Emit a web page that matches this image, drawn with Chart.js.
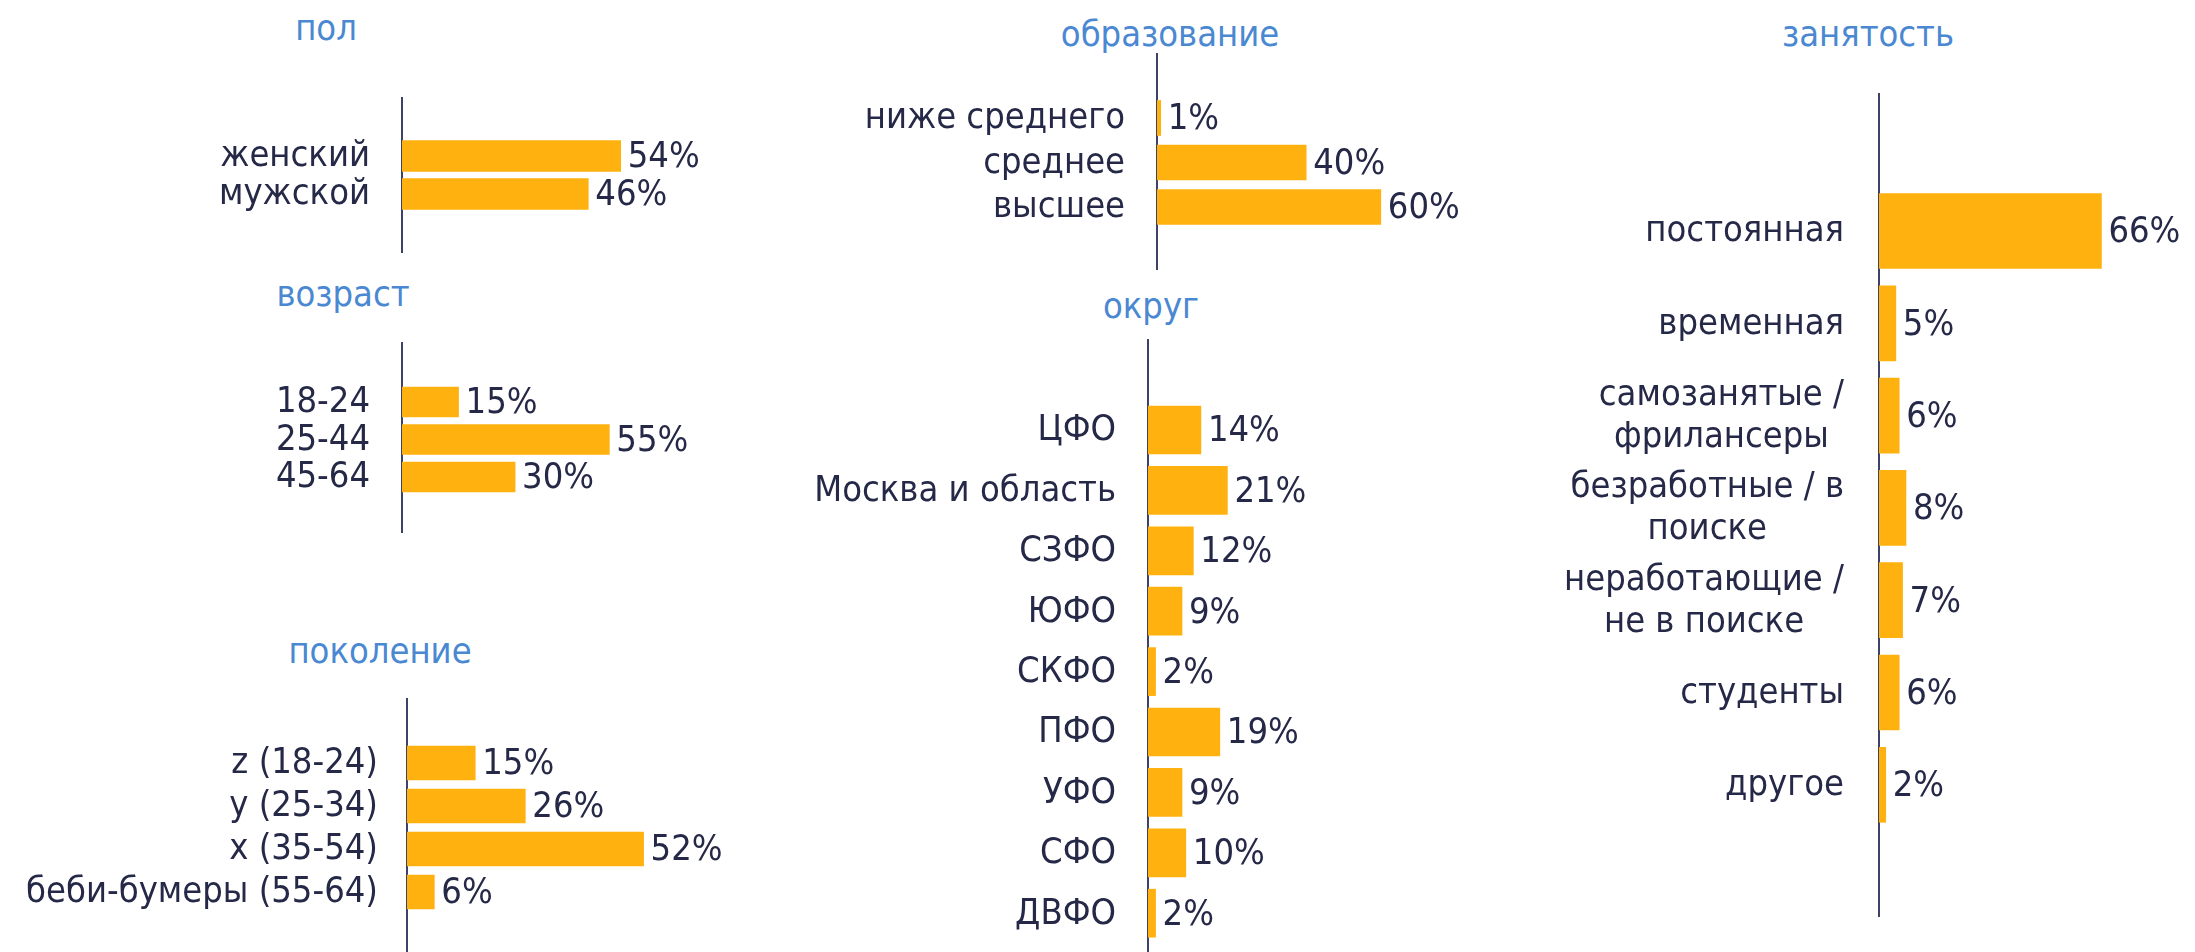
<!DOCTYPE html>
<html>
<head>
<meta charset="utf-8">
<script src="https://cdn.jsdelivr.net/npm/chart.js@4"></script>
<style>
  body { margin: 0; background: #fff; }
  #page { position: relative; width: 2195px; height: 952px; overflow: hidden; background: #fff; }
  #page canvas { position: absolute; }
  .ttl {
    position: absolute; transform: translate(-50%, -50%); white-space: nowrap;
    font-family: "DejaVu Sans Condensed", "DejaVu Sans", sans-serif; font-size: 36px; color: #4a88d2;
  }
</style>
</head>
<body>
<div id="page"></div>
<script>
// data
const genderCats = ['женский', 'мужской'];
const genderVals = [54, 46];

const ageCats = ['18-24', '25-44', '45-64'];
const ageVals = [15, 55, 30];

const generationCats = ['z (18-24)', 'y (25-34)', 'x (35-54)', 'беби-бумеры (55-64)'];
const generationVals = [15, 26, 52, 6];

const educationCats = ['ниже среднего', 'среднее', 'высшее'];
const educationVals = [1, 40, 60];

const districtCats = ['ЦФО', 'Москва и область', 'СЗФО', 'ЮФО', 'СКФО', 'ПФО', 'УФО', 'СФО', 'ДВФО'];
const districtVals = [14, 21, 12, 9, 2, 19, 9, 10, 2];

const employmentCats = [
    'постоянная',
    'временная',
    ['самозанятые /', 'фрилансеры'],
    ['безработные / в', 'поиске'],
    ['неработающие /', 'не в поиске'],
    'студенты',
    'другое'
];
const employmentVals = [66, 5, 6, 8, 7, 6, 2];

const FONT = '"DejaVu Sans Condensed", "DejaVu Sans", sans-serif';
const TEXT_COLOR = '#252947';
const BAR_COLOR = '#ffb20f';
const LABEL_W = 420;   // room for category labels left of the axis
const PLOT_W = 300;
const RIGHT_PAD = 110;

// layout of each small chart (full-size pixel coords)
const panels = [
    { title: 'пол', tx: 326, ty: 27, cats: genderCats, vals: genderVals,
      axisX: 402, top: 97, bottom: 253, first: 156, step: 38, thick: 31, ppp: 4.05, gap: 32 },
    { title: 'возраст', tx: 343, ty: 293, cats: ageCats, vals: ageVals,
      axisX: 402, top: 342, bottom: 533, first: 402, step: 37.5, thick: 30, ppp: 3.77, gap: 32 },
    { title: 'поколение', tx: 380, ty: 650, cats: generationCats, vals: generationVals,
      axisX: 407, top: 698, bottom: 952, first: 763, step: 43, thick: 34, ppp: 4.55, gap: 29 },
    { title: 'образование', tx: 1170, ty: 33, cats: educationCats, vals: educationVals,
      axisX: 1157, top: 53, bottom: 270, first: 118, step: 44.5, thick: 35, ppp: 3.73, gap: 32 },
    { title: 'округ', tx: 1151, ty: 305, cats: districtCats, vals: districtVals,
      axisX: 1148, top: 339, bottom: 952, first: 430, step: 60.4, thick: 48, ppp: 3.78, gap: 32 },
    { title: 'занятость', tx: 1868, ty: 33, cats: employmentCats, vals: employmentVals,
      axisX: 1879, top: 93, bottom: 917, first: 231, step: 92.3, thick: 75, ppp: 3.37, gap: 35 }
];

// draws category labels (right-aligned block, lines centred) and value labels
const labelPlugin = {
    id: 'labels',
    afterDatasetsDraw(chart, args, opts) {
        const ctx = chart.ctx;
        const yScale = chart.scales.y;
        const meta = chart.getDatasetMeta(0);
        ctx.save();
        ctx.font = '36px ' + FONT;
        ctx.fillStyle = TEXT_COLOR;
        ctx.textBaseline = 'middle';
        opts.cats.forEach((c, i) => {
            const lines = Array.isArray(c) ? c : [c];
            const y = yScale.getPixelForValue(i);
            const blockW = Math.max(...lines.map(l => ctx.measureText(l).width));
            const right = chart.chartArea.left - opts.gap;
            ctx.textAlign = 'center';
            lines.forEach((l, k) => {
                const ly = y + 1 + (k - (lines.length - 1) / 2) * 42;
                ctx.fillText(l, right - blockW / 2, ly);
            });
            const bar = meta.data[i];
            ctx.textAlign = 'left';
            ctx.fillText(opts.vals[i] + '%', bar.x + 7, bar.y + 2);
        });
        ctx.restore();
    }
};

const page = document.getElementById('page');

panels.forEach(p => {
    const t = document.createElement('div');
    t.className = 'ttl';
    t.style.left = p.tx + 'px';
    t.style.top = p.ty + 'px';
    t.textContent = p.title;
    page.appendChild(t);

    const w = LABEL_W + PLOT_W + RIGHT_PAD;
    const h = p.bottom - p.top;
    const canvas = document.createElement('canvas');
    canvas.style.left = (p.axisX - LABEL_W) + 'px';
    canvas.style.top = p.top + 'px';
    canvas.style.width = w + 'px';
    canvas.style.height = h + 'px';
    canvas.width = w;
    canvas.height = h;
    page.appendChild(canvas);

    new Chart(canvas.getContext('2d'), {
        type: 'bar',
        data: {
            datasets: [{
                data: p.cats.map((c, i) => ({ x: p.vals[i], y: i })),
                backgroundColor: BAR_COLOR,
                borderWidth: 0,
                barThickness: p.thick
            }]
        },
        options: {
            indexAxis: 'y',
            responsive: false,
            animation: false,
            layout: { padding: { top: 0, bottom: 0, left: 0, right: RIGHT_PAD } },
            scales: {
                x: {
                    type: 'linear',
                    display: false,
                    min: 0,
                    max: PLOT_W / p.ppp
                },
                y: {
                    type: 'linear',
                    reverse: true,
                    offset: false,
                    min: (p.top - p.first) / p.step,
                    max: (p.bottom - p.first) / p.step,
                    grid: { display: false },
                    ticks: { display: false },
                    border: { display: true, color: '#3d4266', width: 2 },
                    afterFit: scale => { scale.width = LABEL_W; }
                }
            },
            plugins: {
                legend: { display: false },
                tooltip: { enabled: false },
                labels: { cats: p.cats, vals: p.vals, gap: p.gap }
            }
        },
        plugins: [labelPlugin]
    });
});
</script>
</body>
</html>
